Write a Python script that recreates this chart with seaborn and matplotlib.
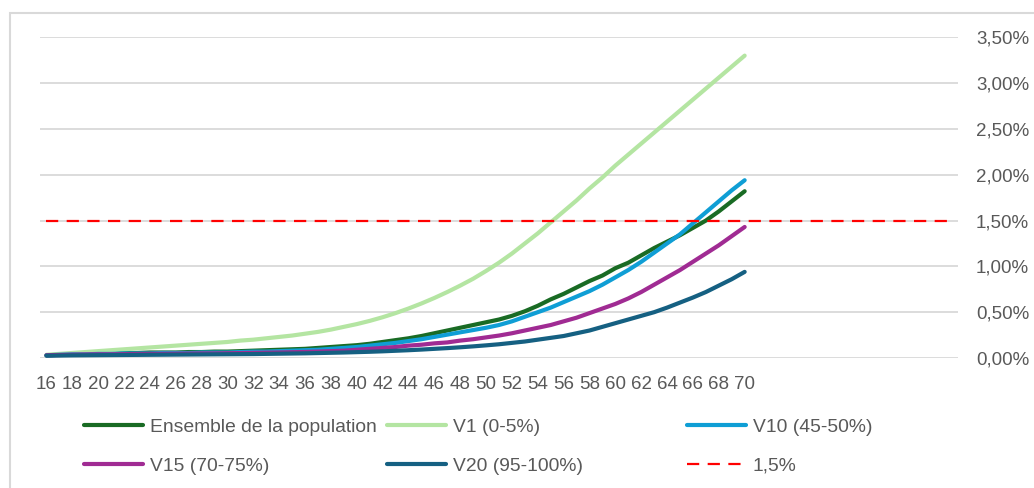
import matplotlib
matplotlib.use("Agg")
import matplotlib.pyplot as plt
import seaborn as sns
from matplotlib.lines import Line2D
from matplotlib.patches import Rectangle
from matplotlib.ticker import FuncFormatter, FixedLocator

# ---- data: annual rate (%) by age ----
ages = list(range(16, 71))
ensemble = [0.03, 0.035, 0.04, 0.045, 0.05, 0.05, 0.055, 0.055, 0.06, 0.06,
            0.06, 0.065, 0.065, 0.07, 0.07, 0.075, 0.08, 0.085, 0.09, 0.095,
            0.10, 0.11, 0.12, 0.13, 0.14, 0.155, 0.175, 0.195, 0.215, 0.24,
            0.27, 0.30, 0.33, 0.36, 0.39, 0.42, 0.46, 0.51, 0.57, 0.64,
            0.70, 0.77, 0.84, 0.90, 0.98, 1.04, 1.12, 1.20, 1.27, 1.34,
            1.42, 1.50, 1.60, 1.71, 1.82]
v1 = [0.035, 0.045, 0.055, 0.065, 0.075, 0.085, 0.095, 0.105, 0.115, 0.125,
      0.135, 0.145, 0.155, 0.165, 0.175, 0.19, 0.20, 0.215, 0.23, 0.245,
      0.265, 0.285, 0.31, 0.34, 0.37, 0.405, 0.445, 0.49, 0.54, 0.595,
      0.655, 0.72, 0.79, 0.865, 0.95, 1.04, 1.14, 1.25, 1.36, 1.48,
      1.60, 1.72, 1.85, 1.97, 2.10, 2.22, 2.34, 2.46, 2.58, 2.70,
      2.82, 2.94, 3.06, 3.18, 3.30]
v10 = [0.03, 0.035, 0.04, 0.04, 0.045, 0.045, 0.05, 0.05, 0.05, 0.055,
       0.055, 0.055, 0.06, 0.06, 0.06, 0.065, 0.07, 0.07, 0.075, 0.08,
       0.085, 0.09, 0.10, 0.11, 0.12, 0.135, 0.15, 0.165, 0.185, 0.205,
       0.23, 0.255, 0.28, 0.305, 0.33, 0.36, 0.40, 0.45, 0.50, 0.55,
       0.61, 0.67, 0.73, 0.80, 0.88, 0.96, 1.05, 1.15, 1.25, 1.35,
       1.47, 1.59, 1.71, 1.83, 1.94]
v15 = [0.03, 0.033, 0.036, 0.038, 0.04, 0.04, 0.042, 0.044, 0.045, 0.046,
       0.047, 0.048, 0.05, 0.05, 0.052, 0.054, 0.056, 0.058, 0.06, 0.063,
       0.066, 0.07, 0.075, 0.08, 0.09, 0.10, 0.11, 0.12, 0.135, 0.145,
       0.16, 0.17, 0.19, 0.205, 0.225, 0.245, 0.27, 0.30, 0.33, 0.36,
       0.40, 0.44, 0.49, 0.54, 0.59, 0.65, 0.72, 0.80, 0.88, 0.96,
       1.05, 1.14, 1.23, 1.33, 1.43]
v20 = [0.025, 0.027, 0.029, 0.03, 0.031, 0.032, 0.033, 0.034, 0.035, 0.036,
       0.037, 0.038, 0.039, 0.04, 0.041, 0.042, 0.043, 0.045, 0.047, 0.049,
       0.051, 0.054, 0.057, 0.06, 0.064, 0.068, 0.073, 0.079, 0.085, 0.092,
       0.10, 0.108, 0.117, 0.127, 0.138, 0.15, 0.165, 0.18, 0.20, 0.22,
       0.24, 0.27, 0.30, 0.34, 0.38, 0.42, 0.46, 0.50, 0.55, 0.605,
       0.66, 0.72, 0.79, 0.86, 0.94]

# threshold line spans the full age axis
threshold_ages = list(range(16, 87))
threshold = 1.5

series_names = ["Ensemble de la population", "V1 (0-5%)", "V10 (45-50%)",
                "V15 (70-75%)", "V20 (95-100%)"]
series_values = [ensemble, v1, v10, v15, v20]
series_colors = ["#196B24", "#B4E5A2", "#0F9ED5", "#A02B93", "#156082"]
threshold_label = "1,5%"
threshold_color = "#FF0000"

x_tick_labels = list(range(16, 71, 2))
y_ticks = [0.0, 0.5, 1.0, 1.5, 2.0, 2.5, 3.0, 3.5]

# ---- style ----
sns.set_theme(style="white")
plt.rcParams["font.family"] = ["Liberation Sans", "DejaVu Sans"]
text_color = "#595959"
grid_color = "#D9D9D9"
fs = 13.5
legend_fs = 13.9

W, H = 1034, 488
fig = plt.figure(figsize=(W / 100, H / 100), dpi=100)
ax = fig.add_axes([40 / W, 1 - 358 / H, (958 - 40) / W, (358 - 37.3) / H])

lw = 3.0
handles = []
for name, vals, col in zip(series_names, series_values, series_colors):
    sns.lineplot(x=ages, y=vals, ax=ax, color=col, linewidth=lw,
                 solid_capstyle="round", solid_joinstyle="round", zorder=3)
    handles.append(Line2D([], [], color=col, lw=lw, solid_capstyle="round"))

sns.lineplot(x=threshold_ages, y=[threshold] * len(threshold_ages), ax=ax,
             color=threshold_color, linewidth=1.6, zorder=4)
ax.lines[-1].set_dashes((5.5, 3.8))
handles.append(Line2D([], [], color=threshold_color, lw=1.6, dashes=(5.5, 3.8)))

ax.set_xlim(15.5, 86.5)
ax.set_ylim(0, 3.5)
ax.xaxis.set_major_locator(FixedLocator(x_tick_labels))
ax.set_xticklabels([str(a) for a in x_tick_labels])
ax.yaxis.set_major_locator(FixedLocator(y_ticks))
ax.yaxis.set_major_formatter(FuncFormatter(lambda v, p: f"{v:.2f}".replace(".", ",") + "%"))
ax.yaxis.tick_right()
ax.tick_params(axis="y", length=0, pad=13, labelsize=fs, labelcolor=text_color)
ax.tick_params(axis="x", length=0, pad=13, labelsize=fs, labelcolor=text_color)
ax.grid(axis="y", color=grid_color, linewidth=1.3, zorder=0)
ax.set_axisbelow(True)
for s in ax.spines.values():
    s.set_visible(False)
ax.set_xlabel("")
ax.set_ylabel("")

# chart frame (top and left edges visible)
fig.add_artist(Rectangle((10 / W, -0.1), 1.1, 1 - 13 / H + 0.1,
                         transform=fig.transFigure, fill=False,
                         edgecolor="#D9D9D9", linewidth=1.5))

# legend entries in a 3 x 2 grid
labels = series_names + [threshold_label]
col_x = [83.5, 386.5, 686.5]
row_y = [427, 466]
order = [(0, 0), (0, 1), (0, 2), (1, 0), (1, 1), (1, 2)]
for h, lab, (r, c) in zip(handles, labels, order):
    leg = fig.legend(handles=[h], labels=[lab], loc="center left",
                     bbox_to_anchor=(col_x[c] / W, 1 - row_y[r] / H),
                     frameon=False, borderpad=0, borderaxespad=0,
                     handlelength=3.1, handletextpad=0.33, fontsize=legend_fs)
    for t in leg.get_texts():
        t.set_color(text_color)

fig.savefig("out.png", dpi=100, facecolor="white")
